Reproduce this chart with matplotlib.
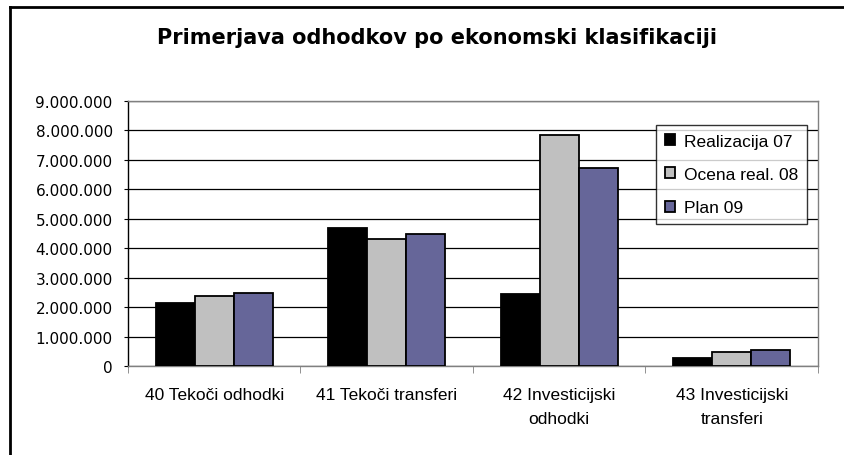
import numpy as np
import matplotlib
matplotlib.use('Agg')
import matplotlib.pyplot as plt
from matplotlib.ticker import FuncFormatter, FixedLocator
from matplotlib.lines import Line2D

# Podatki
kategorije = ['40 Tekoči odhodki', '41 Tekoči transferi',
              '42 Investicijski\nodhodki', '43 Investicijski\ntransferi']
realizacija_07 = [2140000, 4690000, 2450000, 270000]
ocena_real_08 = [2370000, 4320000, 7830000, 490000]
plan_09 = [2480000, 4490000, 6720000, 530000]
serije = ['Realizacija 07', 'Ocena real. 08', 'Plan 09']
barve = ['#000000', '#C0C0C0', '#666699']

fig = plt.figure(figsize=(8.45, 4.56), dpi=100)
ax = fig.add_axes([128 / 845, 1 - 367 / 456, (818 - 128) / 845, (367 - 102) / 456])

x = np.arange(len(kategorije))
w = 0.226
for i, (vals, name, c) in enumerate(zip([realizacija_07, ocena_real_08, plan_09], serije, barve)):
    ax.bar(x + (i - 1) * w, vals, width=w, color=c, edgecolor='black', linewidth=1.3,
           label=name, zorder=3)

ax.set_xlim(-0.5, 3.5)
ax.set_ylim(0, 9000000)
ax.set_yticks(np.arange(0, 9000001, 1000000))
ax.yaxis.set_major_formatter(FuncFormatter(lambda v, p: '{:,.0f}'.format(v).replace(',', '.')))
ax.yaxis.grid(True, color='black', linewidth=0.9, zorder=0)
ax.tick_params(axis='y', length=3, pad=8, direction='out', labelsize=11, colors='black')
for lab in ax.get_yticklabels():
    lab.set_fontfamily('DejaVu Sans')

ax.set_xticks(x)
ax.set_xticklabels(kategorije, fontfamily='Liberation Sans', fontsize=12.5, linespacing=1.8)
ax.tick_params(axis='x', which='major', length=0, pad=15)
ax.xaxis.set_minor_locator(FixedLocator(np.arange(-0.5, 4, 1)))
ax.tick_params(axis='x', which='minor', length=5, direction='out', color='#808080')

ax.spines['left'].set_color('black')
ax.spines['bottom'].set_color('#808080')
ax.spines['top'].set_color('#808080')
ax.spines['right'].set_color('#808080')
for s in ax.spines.values():
    s.set_linewidth(1)
ax.set_axisbelow(True)

leg = ax.legend(loc='upper left', bbox_to_anchor=(656 / 845, 1 - 126 / 456),
                bbox_transform=fig.transFigure, fancybox=False, frameon=True,
                edgecolor='black', prop={'family': 'Liberation Sans', 'size': 12.5},
                handlelength=0.6, handleheight=0.6, handletextpad=0.5,
                labelspacing=1.05, borderpad=0.5, borderaxespad=0)
leg.get_frame().set_linewidth(1)
leg.set_zorder(5)

fig.text(437 / 845, 1 - 38 / 456, 'Primerjava odhodkov po ekonomski klasifikaciji',
         ha='center', va='center', fontsize=15, fontweight='bold', fontfamily='DejaVu Sans')

# okvir slike
fig.add_artist(Line2D([10.5 / 845, 10.5 / 845], [0, 1 - 8 / 456], color='black', linewidth=2,
                      transform=fig.transFigure))
fig.add_artist(Line2D([10.5 / 845, 1], [1 - 8 / 456, 1 - 8 / 456], color='black', linewidth=2,
                      transform=fig.transFigure))

fig.savefig('out.png', dpi=100, facecolor='white')
